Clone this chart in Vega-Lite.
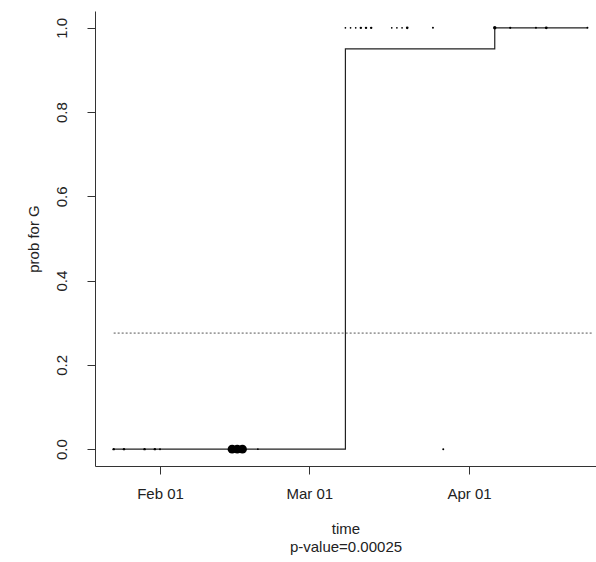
{
  "$schema": "https://vega.github.io/schema/vega-lite/v6.json",
  "width": 501,
  "height": 455,
  "autosize": "none",
  "padding": {"left": 95, "top": 11, "right": 0, "bottom": 96},
  "background": "white",
  "config": {
    "view": {"stroke": null},
    "font": "Liberation Sans",
    "axis": {
      "grid": false,
      "domainColor": "#333333",
      "tickColor": "#333333",
      "labelColor": "#222222",
      "titleColor": "#222222",
      "labelFont": "Liberation Sans",
      "titleFont": "Liberation Sans",
      "labelFontSize": 15,
      "titleFontSize": 15,
      "titleFontWeight": "normal",
      "tickSize": 8,
      "domainWidth": 1,
      "tickWidth": 1
    }
  },
  "datasets": {
    "step": [
      {"date": "2020-01-23", "p": 0},
      {"date": "2020-03-08", "p": 0.95},
      {"date": "2020-04-06", "p": 1},
      {"date": "2020-04-24", "p": 1}
    ],
    "thresh": [
      {"date": "2020-01-23", "p": 0.2755},
      {"date": "2020-04-25", "p": 0.2755}
    ],
    "obs": [
      {"date": "2020-01-23", "p": 0, "s": 6},
      {"date": "2020-01-25", "p": 0, "s": 6},
      {"date": "2020-01-29", "p": 0, "s": 6},
      {"date": "2020-01-31", "p": 0, "s": 6},
      {"date": "2020-02-01", "p": 0, "s": 4},
      {"date": "2020-02-15", "p": 0, "s": 80},
      {"date": "2020-02-16", "p": 0, "s": 80},
      {"date": "2020-02-17", "p": 0, "s": 80},
      {"date": "2020-02-20", "p": 0, "s": 3},
      {"date": "2020-03-27", "p": 0, "s": 4},
      {"date": "2020-03-08", "p": 1, "s": 3},
      {"date": "2020-03-09", "p": 1, "s": 3},
      {"date": "2020-03-10", "p": 1, "s": 3},
      {"date": "2020-03-11", "p": 1, "s": 6},
      {"date": "2020-03-12", "p": 1, "s": 6},
      {"date": "2020-03-13", "p": 1, "s": 6},
      {"date": "2020-03-17", "p": 1, "s": 3},
      {"date": "2020-03-18", "p": 1, "s": 3},
      {"date": "2020-03-19", "p": 1, "s": 3},
      {"date": "2020-03-20", "p": 1, "s": 7},
      {"date": "2020-03-25", "p": 1, "s": 4},
      {"date": "2020-04-06", "p": 1, "s": 12},
      {"date": "2020-04-09", "p": 1, "s": 5},
      {"date": "2020-04-14", "p": 1, "s": 4},
      {"date": "2020-04-16", "p": 1, "s": 8},
      {"date": "2020-04-24", "p": 1, "s": 4}
    ]
  },
  "encoding": {
    "x": {
      "field": "date",
      "type": "temporal",
      "scale": {
        "type": "utc",
        "domain": [
          {"year": 2020, "month": 1, "date": 19, "hours": 9, "utc": true},
          {"year": 2020, "month": 4, "date": 25, "hours": 15, "minutes": 50, "utc": true}
        ]
      },
      "axis": {
        "values": [
          {"year": 2020, "month": 2, "date": 1, "utc": true},
          {"year": 2020, "month": 3, "date": 1, "utc": true},
          {"year": 2020, "month": 4, "date": 1, "utc": true}
        ],
        "format": "%b %d",
        "labelPadding": 12,
        "labelFlush": false,
        "labelOverlap": false,
        "title": ["time", "p-value=0.00025"],
        "titlePadding": 20,
        "titleLineHeight": 18
      }
    },
    "y": {
      "field": "p",
      "type": "quantitative",
      "scale": {"domain": [-0.04, 1.04], "nice": false, "zero": false},
      "axis": {
        "values": [0, 0.2, 0.4, 0.6, 0.8, 1.0],
        "format": ".1f",
        "labelAngle": -90,
        "labelAlign": "center",
        "labelBaseline": "bottom",
        "labelPadding": 18,
        "labelFlush": false,
        "labelOverlap": false,
        "title": "prob for G",
        "titlePadding": 13
      }
    }
  },
  "layer": [
    {
      "data": {"values": [{}]},
      "mark": {"type": "rule", "color": "#333333", "strokeWidth": 1},
      "encoding": {
        "y": {"datum": 1.04},
        "x": {"datum": {"year": 2020, "month": 1, "date": 19, "hours": 9, "utc": true}, "type": "temporal"},
        "x2": {"datum": {"year": 2020, "month": 4, "date": 25, "hours": 15, "minutes": 50, "utc": true}}
      }
    },
    {
      "data": {"name": "thresh"},
      "mark": {"type": "line", "color": "#555555", "strokeWidth": 1, "strokeDash": [2, 2]}
    },
    {
      "data": {"name": "step"},
      "mark": {"type": "line", "color": "#222222", "strokeWidth": 1.2, "interpolate": "step-after"}
    },
    {
      "data": {"name": "obs"},
      "mark": {"type": "circle", "color": "black", "opacity": 1},
      "encoding": {
        "size": {"field": "s", "type": "quantitative", "scale": null, "legend": null}
      }
    }
  ]
}
